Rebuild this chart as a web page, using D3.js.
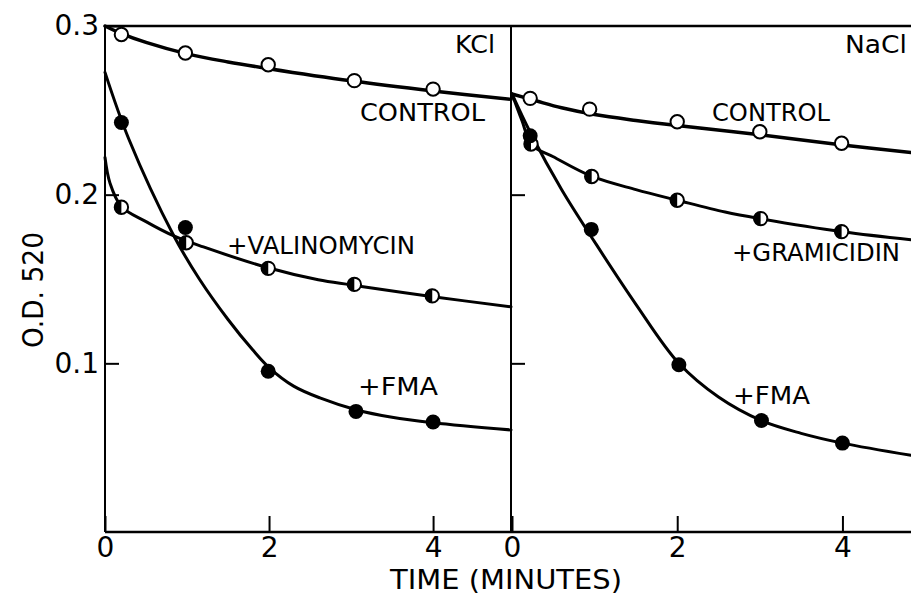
<!DOCTYPE html>
<html><head><meta charset="utf-8">
<script src="https://cdn.jsdelivr.net/npm/d3@7"></script>
<style>
body{margin:0;background:#fff}
svg{display:block}
text{font-family:"DejaVu Sans",sans-serif;fill:#000}
</style>
</head><body>
<svg id="chart" width="911" height="596"></svg>
<script>
// ---------- DATA (time in minutes, optical density at 520 nm) ----------
// KCl panel
const kclControlT   = [0.2, 0.98, 1.99, 3.04, 4.0];
const kclControlOD  = [0.295, 0.284, 0.277, 0.2676, 0.2626];
const kclValT       = [0.2, 0.99, 1.99, 3.04, 3.99];
const kclValOD      = [0.1925, 0.1715, 0.1563, 0.1468, 0.140];
const kclFmaT       = [0.2, 0.98, 1.99, 3.06, 4.0];
const kclFmaOD      = [0.2428, 0.1805, 0.0953, 0.0715, 0.0652];
// fitted curves, KCl
const kclControlFitT  = [0, 0.2, 0.5, 1, 1.5, 2, 3, 4, 4.95];
const kclControlFitOD = [0.300, 0.2955, 0.2903, 0.2835, 0.2787, 0.2747, 0.2675, 0.2615, 0.2565];
const kclValFitT      = [0, 0.06, 0.2, 0.5, 0.84, 1.2, 2, 2.6, 3, 4, 4.95];
const kclValFitOD     = [0.222, 0.207, 0.193, 0.184, 0.1755, 0.169, 0.1565, 0.1495, 0.1465, 0.1395, 0.1335];
const kclFmaFitT      = [0, 0.29, 0.84, 1.15, 1.5, 1.8, 2.0, 2.3, 2.62, 3.06, 3.5, 4.0, 4.95];
const kclFmaFitOD     = [0.2725, 0.233, 0.1755, 0.150, 0.126, 0.108, 0.0975, 0.0865, 0.0795, 0.0725, 0.068, 0.0648, 0.0605];

// NaCl panel
const naclControlT  = [0.22, 0.94, 2.0, 3.0, 3.99];
const naclControlOD = [0.2571, 0.2507, 0.2432, 0.2373, 0.2305];
const naclGramT     = [0.23, 0.965, 2.0, 3.01, 3.99];
const naclGramOD    = [0.2300, 0.2108, 0.1967, 0.1858, 0.1781];
const naclFmaT      = [0.22, 0.96, 2.02, 3.02, 4.0];
const naclFmaOD     = [0.2349, 0.1794, 0.0992, 0.0661, 0.0527];
// fitted curves, NaCl
const naclControlFitT  = [0, 0.3, 0.6, 1.0, 1.5, 2, 3, 4, 4.83];
const naclControlFitOD = [0.2597, 0.2555, 0.2515, 0.2475, 0.2440, 0.2410, 0.2355, 0.2295, 0.2250];
const naclGramFitT     = [0, 0.12, 0.24, 0.5, 0.97, 1.5, 2.0, 2.58, 3.0, 4.0, 4.83];
const naclGramFitOD    = [0.2597, 0.244, 0.2295, 0.2225, 0.2108, 0.2030, 0.1967, 0.1897, 0.1858, 0.178, 0.1733];
const naclFmaFitT      = [0, 0.22, 0.6, 1.0, 1.5, 2.02, 2.5, 3.02, 3.5, 4.0, 4.83];
const naclFmaFitOD     = [0.2597, 0.237, 0.203, 0.172, 0.135, 0.100, 0.080, 0.066, 0.0585, 0.0527, 0.0455];

// ticks & labels
const xTicks = [0, 2, 4];
const yTicks = [0.1, 0.2, 0.3];
const yInnerTicks = [0.1, 0.2];
const panelNames = ["KCl", "NaCl"];
const xTitle = "TIME (MINUTES)";
const yTitle = "O.D. 520";

// ---------- DRAWING ----------
const svg = d3.select("#chart");
const xL = d3.scaleLinear().domain([0, 4.95]).range([105, 511]);
const xR = d3.scaleLinear().domain([0, 4.83]).range([512, 911]);
const y  = d3.scaleLinear().domain([0, 0.3]).range([532, 26]);

const zip = (t, v) => t.map((d, i) => [d, v[i]]);
const black = "#000";

// frame
const frame = svg.append("g").attr("stroke", black).attr("stroke-width", 2).attr("fill", "none");
frame.append("line").attr("x1", xL(0)).attr("x2", 911).attr("y1", y(0.3)).attr("y2", y(0.3)).attr("stroke-width", 2.5);
frame.append("line").attr("x1", xL(0)).attr("x2", 911).attr("y1", y(0)).attr("y2", y(0)).attr("stroke-width", 2.5);
frame.append("line").attr("x1", xL(0)).attr("x2", xL(0)).attr("y1", y(0.3)).attr("y2", y(0));
frame.append("line").attr("x1", xL.range()[1]).attr("x2", xL.range()[1]).attr("y1", y(0.3)).attr("y2", y(0));

function styleAxis(g, size) {
  g.select(".domain").remove();
  g.selectAll(".tick line").attr("stroke", black).attr("stroke-width", 2);
  g.selectAll(".tick text").attr("font-size", size).attr("fill", black)
    .attr("font-family", "DejaVu Sans, sans-serif");
}

// y axis
svg.append("g").attr("transform", `translate(${xL(0)},0)`)
  .call(d3.axisLeft(y).tickValues(yTicks).tickFormat(d3.format(".1f")).tickSize(-14).tickPadding(6))
  .call(g => styleAxis(g, 28));
// ticks on divider
svg.append("g").attr("transform", `translate(${xL.range()[1]},0)`)
  .call(d3.axisRight(y).tickValues(yInnerTicks).tickFormat("").tickSize(14))
  .call(g => styleAxis(g, 28));
// x axes
svg.append("g").attr("transform", `translate(0,${y(0)})`)
  .call(d3.axisBottom(xL).tickValues(xTicks).tickFormat(d3.format("d")).tickSize(-16).tickPadding(5))
  .call(g => styleAxis(g, 28));
svg.append("g").attr("transform", `translate(0,${y(0)})`)
  .call(d3.axisBottom(xR).tickValues(xTicks).tickFormat(d3.format("d")).tickSize(-16).tickPadding(5))
  .call(g => styleAxis(g, 28));

// titles
svg.append("text").attr("x", 506).attr("y", 589).attr("text-anchor", "middle")
  .attr("font-size", 27).attr("textLength", 232).attr("lengthAdjust", "spacingAndGlyphs").text(xTitle);
svg.append("text").attr("transform", "translate(43,290) rotate(-90)").attr("text-anchor", "middle")
  .attr("font-size", 29).attr("textLength", 116).attr("lengthAdjust", "spacingAndGlyphs").text(yTitle);

// curves
function curve(xs, t, v, w) {
  svg.append("path").datum(zip(t, v))
    .attr("fill", "none").attr("stroke", black).attr("stroke-width", w)
    .attr("stroke-linejoin", "round").attr("stroke-linecap", "round")
    .attr("d", d3.line().x(d => xs(d[0])).y(d => y(d[1])).curve(d3.curveCatmullRom.alpha(0.5)));
}
curve(xL, kclControlFitT, kclControlFitOD, 3.5);
curve(xL, kclValFitT, kclValFitOD, 3);
curve(xL, kclFmaFitT, kclFmaFitOD, 3);
curve(xR, naclControlFitT, naclControlFitOD, 3.5);
curve(xR, naclGramFitT, naclGramFitOD, 3);
curve(xR, naclFmaFitT, naclFmaFitOD, 3);

// markers
const R = 7.5;
const halfArc = d3.arc().innerRadius(0).outerRadius(R - 0.5).startAngle(Math.PI).endAngle(2 * Math.PI);
function markers(xs, t, v, kind) {
  const g = svg.append("g").selectAll("g").data(zip(t, v)).join("g")
    .attr("transform", d => `translate(${xs(d[0])},${y(d[1])})`);
  if (kind === "filled") {
    g.append("circle").attr("r", R).attr("fill", black);
  } else {
    g.append("circle").attr("r", R - 0.8).attr("fill", "#fff").attr("stroke", black).attr("stroke-width", 2);
    if (kind === "half") g.append("path").attr("d", halfArc).attr("fill", black);
  }
}
markers(xL, kclControlT, kclControlOD, "open");
markers(xL, kclValT, kclValOD, "half");
markers(xL, kclFmaT, kclFmaOD, "filled");
markers(xR, naclControlT, naclControlOD, "open");
markers(xR, naclGramT, naclGramOD, "half");
markers(xR, naclFmaT, naclFmaOD, "filled");

// annotations
function label(txt, x, yy, len, anchor) {
  svg.append("text").attr("x", x).attr("y", yy).attr("font-size", 25)
    .attr("text-anchor", anchor || "start")
    .attr("textLength", len).attr("lengthAdjust", "spacingAndGlyphs").text(txt);
}
label(panelNames[0], 495, 53, 40, "end");
label(panelNames[1], 907, 53, 62, "end");
label("CONTROL", 360, 121, 125);
label("CONTROL", 712, 121, 118);
label("+VALINOMYCIN", 227, 254, 188);
label("+GRAMICIDIN", 732, 261, 168);
label("+FMA", 358, 395, 80);
label("+FMA", 733, 404, 77);
</script>
</body></html>
